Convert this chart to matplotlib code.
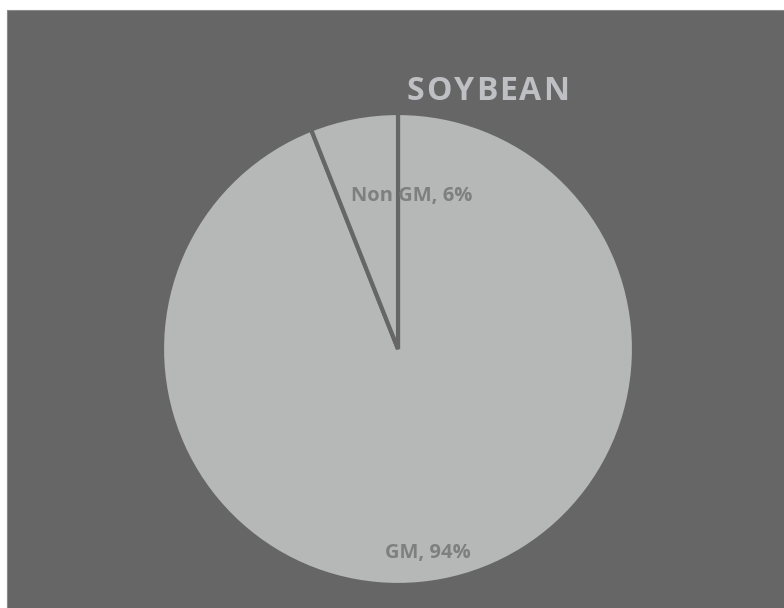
import matplotlib
matplotlib.use("Agg")
import matplotlib.pyplot as plt
from matplotlib.patches import Rectangle

# Soybean acreage share
categories = ["GM", "Non GM"]
shares = [94, 6]
title = "SOYBEAN"

BG = "#666666"
FILL = "#B6B8B7"
LABEL = "#7F7F7F"
TITLE_C = "#BFC0C3"

W, H = 784, 608
fig = plt.figure(figsize=(W / 100, H / 100), dpi=100)
fig.patch.set_facecolor("white")
bg = fig.add_axes([0, 0, 1, 1], zorder=-5)
bg.axis("off")
bg.add_patch(Rectangle((7 / W, 0), 1 - 7 / W, 1 - 10 / H,
                       transform=bg.transAxes, facecolor=BG,
                       edgecolor="#8a8a8a", linewidth=0.8))

cx, cy, r = 398, 349, 236
ax = fig.add_axes([(cx - r) / W, (H - cy - r) / H, 2 * r / W, 2 * r / H])
ax.set_facecolor("none")
ax.pie(shares, startangle=90, counterclock=False,
       colors=[FILL, FILL],
       wedgeprops=dict(edgecolor=BG, linewidth=3))
ax.set_xlim(-1, 1)
ax.set_ylim(-1, 1)
ax.set_aspect("equal")
ax.axis("off")

font = "Open Sans"
label_pos = {"GM": (428, 553), "Non GM": (412, 196)}
for name, val in zip(categories, shares):
    px, py = label_pos[name]
    ax.text((px - cx) / r, (cy - py) / r, f"{name}, {val}%",
            ha="center", va="center", color=LABEL, fontsize=14.5,
            fontweight="bold", family=font)

# Title with extra letter spacing, laid out one glyph at a time
renderer = fig.canvas.get_renderer()
tracking = 2.0  # px between glyphs
glyphs = []
for ch in title:
    t = fig.text(0, 0, ch, color=TITLE_C, fontsize=23, fontweight="bold",
                 family=font, ha="left", va="center")
    glyphs.append((t, t.get_window_extent(renderer).width))
total = sum(w for _, w in glyphs) + tracking * (len(glyphs) - 1)
x = 488 - total / 2
for t, w in glyphs:
    t.set_position((x / W, 1 - 91 / H))
    x += w + tracking

fig.savefig("out.png", dpi=100)
